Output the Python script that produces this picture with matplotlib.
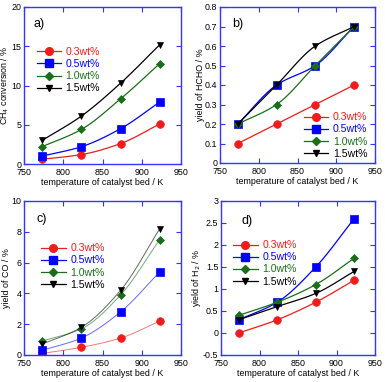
import matplotlib
matplotlib.use("Agg")
import matplotlib.pyplot as plt
from matplotlib.lines import Line2D
import numpy as np

plt.rcParams["font.family"] = ["Liberation Sans", "DejaVu Sans"]

temps = [773, 823, 873, 923]
loadings = ["0.3wt%", "0.5wt%", "1.0wt%", "1.5wt%"]

# panel a) CH4 conversion / %
ch4_conv = [
    [0.6, 1.2, 2.6, 5.1],
    [1.0, 2.2, 4.5, 7.9],
    [2.2, 4.4, 8.3, 12.8],
    [3.0, 6.1, 10.3, 15.2],
]
# panel b) yield of HCHO / %
hcho_yield = [
    [0.1, 0.2, 0.3, 0.4],
    [0.2, 0.4, 0.5, 0.7],
    [0.2, 0.3, 0.5, 0.7],
    [0.2, 0.4, 0.6, 0.7],
]
# panel c) yield of CO / %
co_yield = [
    [0.1, 0.5, 1.1, 2.2],
    [0.3, 1.1, 2.8, 5.4],
    [0.9, 1.7, 3.9, 7.5],
    [0.7, 1.8, 4.2, 8.2],
]
# panel d) yield of H2 / %
h2_yield = [
    [0.0, 0.3, 0.7, 1.2],
    [0.3, 0.7, 1.5, 2.6],
    [0.4, 0.7, 1.1, 1.7],
    [0.3, 0.6, 0.9, 1.4],
]

colors = ["#ee1c1c", "#0000ff", "#1a6e1a", "#000000"]
markers = ["o", "s", "D", "v"]
msizes = [5.5, 5.5, 3.8, 5.0]
spine_col = "#3535ff"
fs = 6.4


def pchip(x, y, xs):
    # monotone cubic hermite, just for drawing a smooth line through points
    x = np.asarray(x, float)
    y = np.asarray(y, float)
    h = np.diff(x)
    d = np.diff(y) / h
    m = np.zeros_like(y)
    m[0], m[-1] = d[0], d[-1]
    for i in range(1, len(y) - 1):
        if d[i - 1] * d[i] > 0:
            w1 = 2 * h[i] + h[i - 1]
            w2 = h[i] + 2 * h[i - 1]
            m[i] = (w1 + w2) / (w1 / d[i - 1] + w2 / d[i])
    out = np.empty_like(xs)
    for j, xv in enumerate(xs):
        i = min(np.searchsorted(x, xv) - 1, len(x) - 2)
        i = max(i, 0)
        t = (xv - x[i]) / h[i]
        h00 = 2 * t**3 - 3 * t**2 + 1
        h10 = t**3 - 2 * t**2 + t
        h01 = -2 * t**3 + 3 * t**2
        h11 = t**3 - t**2
        out[j] = h00 * y[i] + h10 * h[i] * m[i] + h01 * y[i + 1] + h11 * h[i] * m[i + 1]
    return out


fig = plt.figure(figsize=(3.85, 3.82), dpi=100)
W, H = 385, 382


def px_axes(l, t, r, b):
    return fig.add_axes([l / W, 1 - b / H, (r - l) / W, (b - t) / H])


panels = [
    dict(box=(24, 7, 181, 164), data=ch4_conv, ylim=(0, 20), yt=[0, 5, 10, 15, 20],
         ylab="CH$_4$ conversion / %", tag="a)", tagpos=(0.06, 0.89),
         leg=(0.08, 0.745), lw=0.9, alpha=1.0),
    dict(box=(220, 7, 375, 163), data=hcho_yield, ylim=(0, 0.8),
         yt=[0, 0.1, 0.2, 0.3, 0.4, 0.5, 0.6, 0.7, 0.8],
         ylab="yield of HCHO / %", tag="b)", tagpos=(0.08, 0.89),
         leg=(0.54, 0.325), lw=0.9, alpha=1.0),
    dict(box=(24, 201, 181, 355), data=co_yield, ylim=(0, 10), yt=[0, 2, 4, 6, 8, 10],
         ylab="yield of CO / %", tag="c)", tagpos=(0.08, 0.88),
         leg=(0.11, 0.725), lw=0.7, alpha=0.6),
    dict(box=(221, 201, 375, 355), data=h2_yield, ylim=(-0.5, 3),
         yt=[-0.5, 0, 0.5, 1, 1.5, 2, 2.5, 3],
         ylab="yield of H$_2$ / %", tag="d)", tagpos=(0.13, 0.87),
         leg=(0.08, 0.745), lw=0.9, alpha=1.0),
]

xs = np.linspace(temps[0], temps[-1], 120)
for p in panels:
    ax = px_axes(*p["box"])
    for k, series in enumerate(p["data"]):
        ax.plot(xs, pchip(temps, series, xs), color=colors[k], lw=p["lw"], alpha=p["alpha"])
        ax.plot(temps, series, linestyle="none", marker=markers[k], ms=msizes[k],
                color=colors[k], markeredgewidth=0.5)
    ax.set_xlim(750, 950)
    ax.set_xticks([750, 800, 850, 900, 950])
    ax.set_ylim(*p["ylim"])
    ax.set_yticks(p["yt"])
    ax.set_yticklabels([("%g" % v) for v in p["yt"]])
    ax.tick_params(direction="in", top=True, right=True, length=3.5, width=0.8,
                   color=spine_col, labelsize=fs)
    ax.tick_params(axis="x", pad=3)
    ax.tick_params(axis="y", pad=1.8)
    for s in ax.spines.values():
        s.set_color(spine_col)
        s.set_linewidth(1.0)
    ax.set_xlabel("temperature of catalyst bed / K", fontsize=fs, labelpad=0.5)
    ax.set_ylabel(p["ylab"], fontsize=fs, labelpad=0)
    ax.text(*p["tagpos"], p["tag"], transform=ax.transAxes, fontsize=9, va="center")

    handles = [Line2D([], [], color=colors[k], lw=0.9, marker=markers[k], ms=msizes[k])
               for k in range(4)]
    leg = ax.legend(handles, loadings, loc="upper left", bbox_to_anchor=p["leg"],
                    frameon=False, fontsize=7.6, handlelength=2.3, handletextpad=0.45,
                    labelspacing=0.2, borderaxespad=0, borderpad=0)
    for k, t in enumerate(leg.get_texts()):
        t.set_color(colors[k])

fig.savefig("out.png", dpi=100)
